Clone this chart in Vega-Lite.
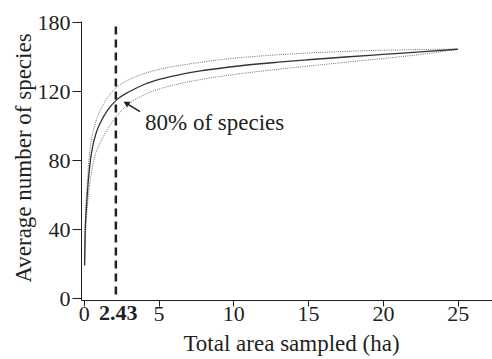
{
  "$schema": "https://vega.github.io/schema/vega-lite/v6.json",
  "width": 411,
  "height": 279,
  "autosize": {"type": "none"},
  "padding": {"left": 81, "top": 21, "right": 0, "bottom": 59},
  "config": {
    "view": {"stroke": null},
    "font": "Times New Roman, Liberation Serif, serif",
    "axis": {"grid": false, "domainColor": "#231f20", "tickColor": "#231f20", "labelColor": "#231f20", "titleColor": "#231f20", "labelFont": "Times New Roman, Liberation Serif, serif", "titleFont": "Times New Roman, Liberation Serif, serif", "labelFontSize": 22, "titleFontSize": 23, "titleFontWeight": "normal", "domainWidth": 1, "tickWidth": 1}
  },
  "datasets": {
    "curves": [
      {"area": 0.06, "species": 19, "s": "mean"},
      {"area": 0.1, "species": 38, "s": "mean"},
      {"area": 0.18, "species": 52, "s": "mean"},
      {"area": 0.29, "species": 66, "s": "mean"},
      {"area": 0.45, "species": 80, "s": "mean"},
      {"area": 0.6, "species": 88, "s": "mean"},
      {"area": 0.82, "species": 95.5, "s": "mean"},
      {"area": 1.16, "species": 102.5, "s": "mean"},
      {"area": 1.6, "species": 109, "s": "mean"},
      {"area": 2.2, "species": 115, "s": "mean"},
      {"area": 3.1, "species": 120, "s": "mean"},
      {"area": 4, "species": 123.8, "s": "mean"},
      {"area": 5.1, "species": 127, "s": "mean"},
      {"area": 6.5, "species": 129.8, "s": "mean"},
      {"area": 7.8, "species": 131.8, "s": "mean"},
      {"area": 9.5, "species": 133.8, "s": "mean"},
      {"area": 11.1, "species": 135.4, "s": "mean"},
      {"area": 13, "species": 136.9, "s": "mean"},
      {"area": 15, "species": 138.3, "s": "mean"},
      {"area": 17.5, "species": 139.9, "s": "mean"},
      {"area": 20, "species": 141.4, "s": "mean"},
      {"area": 22.5, "species": 142.9, "s": "mean"},
      {"area": 25, "species": 144.4, "s": "mean"},
      {"area": 0.06, "species": 19, "s": "upper"},
      {"area": 0.1, "species": 42, "s": "upper"},
      {"area": 0.15, "species": 55, "s": "upper"},
      {"area": 0.22, "species": 64, "s": "upper"},
      {"area": 0.35, "species": 80, "s": "upper"},
      {"area": 0.49, "species": 90.5, "s": "upper"},
      {"area": 0.7, "species": 99, "s": "upper"},
      {"area": 0.94, "species": 105.5, "s": "upper"},
      {"area": 1.35, "species": 113, "s": "upper"},
      {"area": 1.83, "species": 119, "s": "upper"},
      {"area": 2.2, "species": 122.3, "s": "upper"},
      {"area": 3.1, "species": 127, "s": "upper"},
      {"area": 4, "species": 130.2, "s": "upper"},
      {"area": 5.1, "species": 132.8, "s": "upper"},
      {"area": 6.5, "species": 135.1, "s": "upper"},
      {"area": 7.8, "species": 136.8, "s": "upper"},
      {"area": 9.5, "species": 138.7, "s": "upper"},
      {"area": 11.1, "species": 140, "s": "upper"},
      {"area": 13, "species": 141.2, "s": "upper"},
      {"area": 15, "species": 142.2, "s": "upper"},
      {"area": 18, "species": 143.3, "s": "upper"},
      {"area": 21, "species": 144, "s": "upper"},
      {"area": 25, "species": 144.5, "s": "upper"},
      {"area": 0.06, "species": 19, "s": "lower"},
      {"area": 0.1, "species": 33, "s": "lower"},
      {"area": 0.2, "species": 48, "s": "lower"},
      {"area": 0.37, "species": 64, "s": "lower"},
      {"area": 0.5, "species": 72, "s": "lower"},
      {"area": 0.71, "species": 81, "s": "lower"},
      {"area": 1.16, "species": 91, "s": "lower"},
      {"area": 1.6, "species": 98, "s": "lower"},
      {"area": 2.1, "species": 104.5, "s": "lower"},
      {"area": 2.6, "species": 109.5, "s": "lower"},
      {"area": 3.1, "species": 113.3, "s": "lower"},
      {"area": 4, "species": 117.8, "s": "lower"},
      {"area": 5.1, "species": 121.5, "s": "lower"},
      {"area": 6.5, "species": 124.6, "s": "lower"},
      {"area": 7.8, "species": 126.8, "s": "lower"},
      {"area": 9.5, "species": 129.1, "s": "lower"},
      {"area": 11.1, "species": 130.9, "s": "lower"},
      {"area": 13, "species": 132.8, "s": "lower"},
      {"area": 15, "species": 134.6, "s": "lower"},
      {"area": 18, "species": 137.3, "s": "lower"},
      {"area": 21, "species": 139.9, "s": "lower"},
      {"area": 23, "species": 141.9, "s": "lower"},
      {"area": 25, "species": 144.5, "s": "lower"}
    ]
  },
  "layer": [
    {
      "data": {"name": "curves"},
      "transform": [{"filter": "datum.s != 'mean'"}],
      "mark": {"type": "line", "color": "#6e6e6e", "strokeWidth": 1, "strokeDash": [1, 1.2], "interpolate": "monotone"},
      "encoding": {
        "x": {"field": "area", "type": "quantitative", "scale": {"domain": [-0.18, 27.29], "nice": false, "zero": false},
          "axis": {"values": [0, 5, 10, 15, 20, 25], "tickSize": 6, "labelPadding": -3, "title": "Total area sampled (ha)", "titlePadding": 8, "titleX": 210, "titleAlign": "center", "labelFlush": false}},
        "y": {"field": "species", "type": "quantitative", "scale": {"domain": [-1.16, 160.8], "nice": false, "zero": false},
          "axis": {"values": [0, 20, 40, 60, 80, 100, 120, 140, 160], "tickSize": {"condition": {"test": "datum.value % 40 == 0", "value": 9}, "value": 6}, "labelPadding": 2,
            "labelExpr": "datum.value % 40 == 0 ? (datum.value == 160 ? '180' : datum.label) : ''", "title": "Average number of species", "titlePadding": 2, "titleY": 136.5, "labelFlush": false}},
        "detail": {"field": "s"}
      }
    },
    {
      "data": {"name": "curves"},
      "transform": [{"filter": "datum.s == 'mean'"}],
      "mark": {"type": "line", "color": "#333333", "strokeWidth": 1.3, "interpolate": "monotone"},
      "encoding": {
        "x": {"field": "area", "type": "quantitative"},
        "y": {"field": "species", "type": "quantitative"}
      }
    },
    {
      "data": {"values": [{"area": 2.15, "y0": 2, "y1": 159.8}]},
      "mark": {"type": "rule", "color": "#231f20", "strokeWidth": 2.5, "strokeDash": [8, 5]},
      "encoding": {
        "x": {"field": "area", "type": "quantitative"},
        "y": {"field": "y0", "type": "quantitative"},
        "y2": {"field": "y1"}
      }
    },
    {
      "data": {"values": [{"x0": 3.76, "y0": 108.2, "x1": 2.75, "y1": 113.6}]},
      "mark": {"type": "rule", "color": "#231f20", "strokeWidth": 1.5},
      "encoding": {
        "x": {"field": "x0", "type": "quantitative"},
        "y": {"field": "y0", "type": "quantitative"},
        "x2": {"field": "x1"},
        "y2": {"field": "y1"}
      }
    },
    {
      "data": {"values": [{"x": 2.9, "y": 112.8}]},
      "mark": {"type": "point", "shape": "triangle", "filled": true, "color": "#231f20", "size": 45, "angle": 301, "opacity": 1},
      "encoding": {
        "x": {"field": "x", "type": "quantitative"},
        "y": {"field": "y", "type": "quantitative"}
      }
    },
    {
      "data": {"values": [{"x": 4.1, "y": 97.5, "label": "80% of species"}]},
      "mark": {"type": "text", "align": "left", "baseline": "alphabetic", "font": "Times New Roman, Liberation Serif, serif", "fontSize": 23, "color": "#231f20"},
      "encoding": {
        "x": {"field": "x", "type": "quantitative"},
        "y": {"field": "y", "type": "quantitative"},
        "text": {"field": "label"}
      }
    },
    {
      "data": {"values": [{"x": 2.31, "y": 0, "label": "2.43"}]},
      "mark": {"type": "text", "align": "center", "baseline": "top", "dy": 5, "font": "Times New Roman, Liberation Serif, serif", "fontSize": 22, "fontWeight": "bold", "color": "#231f20", "clip": false},
      "encoding": {
        "x": {"field": "x", "type": "quantitative"},
        "y": {"field": "y", "type": "quantitative"},
        "text": {"field": "label"}
      }
    }
  ]
}
